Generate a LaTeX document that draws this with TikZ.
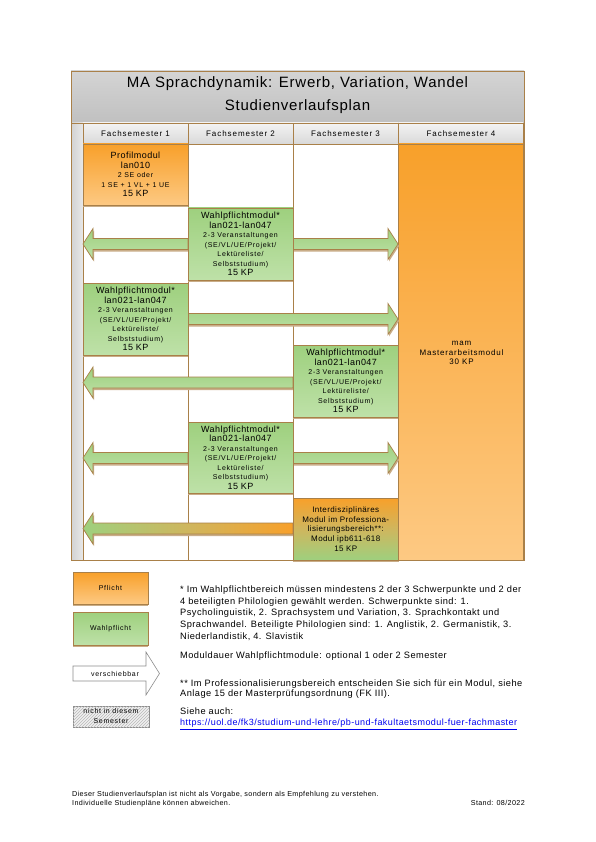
\documentclass[tikz,border=0pt]{standalone}
\usepackage{fontspec}
\setmainfont{Liberation Sans}
\newfontfamily\fMain[LetterSpace=5]{Liberation Sans}
\newfontfamily\fSmall[LetterSpace=10]{Liberation Sans}
\newfontfamily\fHead[LetterSpace=12]{Liberation Sans}
\usetikzlibrary{shadows,patterns}
\definecolor{brd}{HTML}{A98049}
\definecolor{orT}{HTML}{F8A02A}
\definecolor{orB}{HTML}{FDC983}
\definecolor{grT}{HTML}{9ED07E}
\definecolor{grB}{HTML}{BEE1A8}
\definecolor{shdw}{HTML}{C9AD88}
\definecolor{ttlT}{HTML}{D4D4D4}
\definecolor{ttlB}{HTML}{C0C0C0}
\definecolor{hdT}{HTML}{F3F3F3}
\definecolor{hdB}{HTML}{D9D9D9}
\definecolor{stripL}{HTML}{D2D2D2}
\definecolor{stripR}{HTML}{E8E8E8}
\definecolor{urlblue}{HTML}{0000EE}
\definecolor{mixc}{HTML}{CFB65E}
\definecolor{legbrd}{HTML}{8C8C8C}
\newcommand\MLg{\fMain\fontsize{9}{9.5}\selectfont}
\newcommand\MMd{\fMain\fontsize{8}{9.7}\selectfont}
\newcommand\MSm{\fSmall\fontsize{7}{9.5}\selectfont}
\newcommand\WPtext{{\MLg Wahlpflichtmodul*}\\{\MLg lan021-lan047}\\{\MSm 2-3 Veranstaltungen}\\{\MSm (SE/VL/UE/Projekt/}\\{\MSm Lektüreliste/}\\{\MSm Selbststudium)}\\{\MLg 15 KP}}
% block arrow: start x, head base x, tip x, centre y, half shaft, half head, style
\newcommand\blockarrow[7]{%
  \fill[shdw,shift={(1,2)}] (#1,#4-#5) -- (#2,#4-#5) -- (#2,#4-#6) -- (#3,#4) -- (#2,#4+#6) -- (#2,#4+#5) -- (#1,#4+#5) -- cycle;
  \path[#7] (#1,#4-#5) -- (#2,#4-#5) -- (#2,#4-#6) -- (#3,#4) -- (#2,#4+#6) -- (#2,#4+#5) -- (#1,#4+#5) -- cycle;}
\begin{document}
\begin{tikzpicture}[x=1pt,y=-1pt,
  line/.style={draw=brd,line width=0.7pt},
  modbox/.style={line, inner sep=0pt, align=center, minimum width=105,
    drop shadow={shadow xshift=0pt,shadow yshift=-2pt,fill=shdw,opacity=1}},
  pfl/.style={modbox, top color=orT, bottom color=orB, font=\MLg},
  wpf/.style={modbox, top color=grT, bottom color=grB, font=\MLg},
  garrow/.style={line, top color=grT, bottom color=grB},
  hdr/.style={font=\fHead\fontsize{8}{9}\selectfont, inner sep=0pt},
  note/.style={font=\fMain\fontsize{9.25}{11.75}\selectfont, align=left, inner sep=0pt, anchor=north west},
  leg/.style={font=\MSm, align=center, inner sep=0pt}
]
\useasboundingbox (0,0) rectangle (595,842);
\fill[white] (0,0) rectangle (595,842);

% title band
\shade[top color=ttlT, bottom color=ttlB] (71,71) rectangle (524,123);
\node[font=\fMain\fontsize{15}{18}\selectfont, inner sep=0pt] (title1) at (297.5,84) {MA Sprachdynamik: Erwerb, Variation, Wandel};
\node[font=\fMain\fontsize{15}{18}\selectfont, inner sep=0pt] (title2) at (297.5,107) {Studienverlaufsplan};

% left strip
\shade[left color=stripL, right color=stripR] (71,123) rectangle (83,560);

% header row
\shade[line, top color=hdT, bottom color=hdB] (83,123) rectangle (188,144);
\shade[line, top color=hdT, bottom color=hdB] (188,123) rectangle (293,144);
\shade[line, top color=hdT, bottom color=hdB] (293,123) rectangle (398.5,144);
\shade[line, top color=hdT, bottom color=hdB] (398.5,123) rectangle (523,144);
\node[hdr] (h1) at (135.5,133.5) {Fachsemester 1};
\node[hdr] (h2) at (240.5,133.5) {Fachsemester 2};
\node[hdr] (h3) at (345.5,133.5) {Fachsemester 3};
\node[hdr] (h4) at (461,133.5) {Fachsemester 4};

% columns
\draw[line, fill=white] (83,144) rectangle (188,560);
\draw[line, fill=white] (188,144) rectangle (293,560);
\draw[line, fill=white] (293,144) rectangle (398.5,560);
\shade[line, top color=orT, bottom color=orB] (398.5,144) rectangle (523,560);
\node[font=\fSmall\fontsize{8}{9.6}\selectfont, align=center, inner sep=0pt] (mam) at (461.5,353) {mam\\Masterarbeitsmodul\\30 KP};

% outer frame
\draw[line] (71,71) rectangle (524,560);
\draw[line] (71,123) -- (524,123);

% block arrows (Verschiebbarkeit)
\blockarrow{188}{93}{83}{244}{5.5}{15.5}{garrow}
\blockarrow{293}{388}{398}{244}{5.5}{15.5}{garrow}
\blockarrow{188}{388}{398}{319}{5.5}{15.5}{garrow}
\blockarrow{293}{93}{83}{382.5}{5.5}{15.5}{garrow}
\blockarrow{188}{93}{83}{458}{5.5}{15.5}{garrow}
\blockarrow{293}{388}{398}{458}{5.5}{15.5}{garrow}
\blockarrow{293}{93}{83}{528.5}{5.5}{15.5}{line, left color=grT, right color=orT, middle color=mixc}

% modules
\node[pfl, minimum height=61] (profil) at (135.5,174.5)
  {{\MLg Profilmodul}\\{\MLg lan010}\\{\MSm 2 SE oder}\\{\MSm 1 SE + 1 VL + 1 UE}\\{\MLg 15 KP}};
\node[wpf, minimum height=72] (wp1) at (240.5,244) {\WPtext};
\node[wpf, minimum height=72] (wp2) at (135.5,319) {\WPtext};
\node[wpf, minimum height=72] (wp3) at (345.75,381) {\WPtext};
\node[wpf, minimum height=71] (wp4) at (240.5,457.5) {\WPtext};
\node[modbox, minimum width=105.5, minimum height=62, top color=orT, bottom color=grT, middle color=mixc, font=\MMd] (inter) at (345.75,529)
  {Interdisziplinäres\\Modul im Professiona-\\lisierungsbereich**:\\Modul ipb611-618\\15 KP};

% legend
\node[pfl, minimum width=75, minimum height=32, font=\MSm] (lpfl) at (110.5,588) {Pflicht};
\node[wpf, minimum width=75, minimum height=33, font=\MSm] (lwpf) at (110.5,628.5) {Wahlpflicht};
\path[draw=legbrd, line width=0.6pt, fill=white] (73,666) -- (146,666) -- (146,652) -- (159.5,673.5) -- (146,695) -- (146,681) -- (73,681) -- cycle;
\node[leg] (lver) at (115,674) {verschiebbar};
\path[draw=legbrd, line width=0.6pt, fill=gray!12] (73,706) rectangle (149,727);
\path[pattern=north east lines, pattern color=gray!55] (73,706) rectangle (149,727);
\node[leg, font=\fSmall\fontsize{7}{10}\selectfont] (lnicht) at (111,716) {nicht in diesem\\Semester};

% notes
\node[note] (n1) at (180,585.5) {* Im Wahlpflichtbereich müssen mindestens 2 der 3 Schwerpunkte und 2 der\\4 beteiligten Philologien gewählt werden. Schwerpunkte sind: 1.\\Psycholinguistik, 2. Sprachsystem und Variation, 3. Sprachkontakt und\\Sprachwandel. Beteiligte Philologien sind: 1. Anglistik, 2. Germanistik, 3.\\Niederlandistik, 4. Slavistik};
\node[note] (n2) at (180,651.5) {Moduldauer Wahlpflichtmodule: optional 1 oder 2 Semester};
\node[note, font=\fMain\fontsize{9.25}{10.5}\selectfont] (n3) at (180,679.5) {** Im Professionalisierungsbereich entscheiden Sie sich für ein Modul, siehe\\Anlage 15 der Masterprüfungsordnung (FK III).};
\node[note, font=\fMain\fontsize{9.25}{11}\selectfont] (n4) at (180,708) {Siehe auch:\\{\fontsize{9}{11}\selectfont\color{urlblue}\underline{https://uol.de/fk3/studium-und-lehre/pb-und-fakultaetsmodul-fuer-fachmaster}}};

% footer
\node[note, font=\fMain\fontsize{7.2}{8.2}\selectfont] (foot) at (72,791.5) {Dieser Studienverlaufsplan ist nicht als Vorgabe, sondern als Empfehlung zu verstehen.\\Individuelle Studienpläne können abweichen.};
\node[font=\fMain\fontsize{7.2}{8}\selectfont, inner sep=0pt, anchor=east] (stand) at (525,802.5) {Stand: 08/2022};
\end{tikzpicture}
\end{document}
